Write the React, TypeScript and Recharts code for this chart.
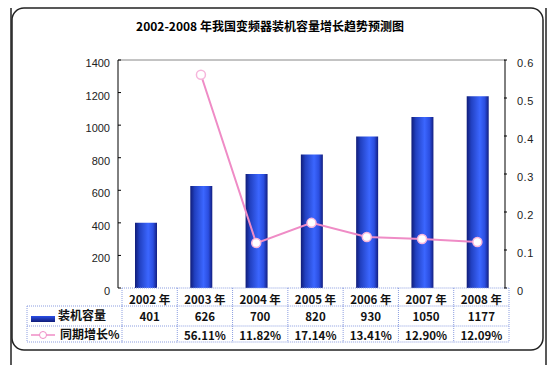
import { ComposedChart, Bar, Line, XAxis, YAxis, ReferenceLine } from "recharts";

// Data
const years = ["2002 年", "2003 年", "2004 年", "2005 年", "2006 年", "2007 年", "2008 年"];
const capacity = [401, 626, 700, 820, 930, 1050, 1177];
const growth = [null, 0.5611, 0.1182, 0.1714, 0.1341, 0.129, 0.1209];
const growthLabels = ["", "56.11%", "11.82%", "17.14%", "13.41%", "12.90%", "12.09%"];
const leftTicks = [0, 200, 400, 600, 800, 1000, 1200, 1400];
const rightTicks = [0, 0.1, 0.2, 0.3, 0.4, 0.5, 0.6];

const data = years.map((year, i) => ({ year, capacity: capacity[i], growth: growth[i] }));

// Layout
const W = 556;
const H = 365;
const TOP = 60;
const BOTTOM = 77;
const LEFT_W = 118;
const RIGHT_W = 51;
const BAND = (W - LEFT_W - RIGHT_W) / years.length;
const SHIFT = 4;
const PINK = "#ef8cc6";
const GRID = "#8c9ee0";
const CJK = "'Noto Sans CJK SC', sans-serif";

function LeftTick(props: any) {
  const { x, y, payload } = props;
  return (
    <g>
      <line x1={x + 8} x2={x + 11} y1={y} y2={y} stroke="#000" />
      <text x={x} y={y + 7} textAnchor="end" fontSize={11} fontFamily="'Liberation Sans', Arial" fill="#222">
        {payload.value}
      </text>
    </g>
  );
}

function RightTick(props: any) {
  const { x, y, payload } = props;
  return (
    <g>
      <line x1={x - 10} x2={x - 13} y1={y} y2={y} stroke="#000" />
      <text x={x} y={y + 7} textAnchor="start" fontSize={11} fontFamily="'Liberation Sans', Arial" fill="#222" letterSpacing={0.5}>
        {payload.value}
      </text>
    </g>
  );
}

function TableTick(props: any) {
  const { x, y, payload } = props;
  const i = payload.index;
  const top = y;
  const x0 = x - BAND / 2 + SHIFT;
  const x1 = x + BAND / 2 + SHIFT;
  const cx = x + SHIFT;
  const r1 = top + 18;
  const r2 = top + 38;
  const r3 = top + 54;
  const dash = { stroke: GRID, strokeDasharray: "1 1", strokeWidth: 1 };
  const bold = { fontFamily: CJK, fontWeight: 700, fontSize: 11.5, fill: "#111", textAnchor: "middle" as const };
  return (
    <g>
      <line x1={x0} x2={x1} y1={top} y2={top} {...dash} />
      <line x1={x0} x2={x1} y1={r1} y2={r1} {...dash} />
      <line x1={x0} x2={x1} y1={r2} y2={r2} {...dash} />
      <line x1={x0} x2={x1} y1={r3} y2={r3} {...dash} />
      <line x1={x1} x2={x1} y1={top} y2={r3} {...dash} />
      {i === 0 && (
        <g>
          <line x1={x0} x2={x0} y1={top} y2={r3} {...dash} />
          <line x1={27} x2={x0} y1={r1} y2={r1} {...dash} />
          <line x1={27} x2={x0} y1={r2} y2={r2} {...dash} />
          <line x1={27} x2={x0} y1={r3} y2={r3} {...dash} />
          <line x1={27} x2={27} y1={r1} y2={r3} {...dash} />
          <rect x={31} y={r1 + 10} width={24} height={6} fill="url(#swatchGrad)" />
          <text x={58} y={r1 + 14} {...bold} textAnchor="start" fontSize={12}>装机容量</text>
          <line x1={31} x2={55} y1={r2 + 9} y2={r2 + 9} stroke={PINK} strokeWidth={1.5} />
          <circle cx={43} cy={r2 + 9} r={3.5} fill="#fff" stroke={PINK} strokeWidth={1} />
          <text x={60} y={r2 + 13} {...bold} textAnchor="start" fontSize={12}>同期增长%</text>
        </g>
      )}
      <text x={cx} y={top + 16} {...bold}>{years[i]}</text>
      <text x={cx} y={r1 + 15} {...bold}>{capacity[i]}</text>
      <text x={cx} y={r2 + 14} {...bold}>{growthLabels[i]}</text>
    </g>
  );
}

export default function App() {
  return (
    <div style={{ position: "absolute", left: 0, top: 0, width: W, height: H, background: "#fff" }}>
      <svg width={W} height={H} style={{ position: "absolute", left: 0, top: 0 }}>
        <defs>
          <linearGradient id="barGrad" x1="0" y1="0" x2="1" y2="0">
            <stop offset="0%" stopColor="#101c78" />
            <stop offset="20%" stopColor="#2140c0" />
            <stop offset="60%" stopColor="#3b66ff" />
            <stop offset="82%" stopColor="#2b4ee0" />
            <stop offset="100%" stopColor="#121e80" />
          </linearGradient>
          <linearGradient id="swatchGrad" x1="0" y1="0" x2="0" y2="1">
            <stop offset="0%" stopColor="#2a4fe8" />
            <stop offset="100%" stopColor="#101c78" />
          </linearGradient>
        </defs>
        <line x1={11} x2={11} y1={8} y2={H} stroke="#222" strokeWidth={1.5} />
        <line x1={546} x2={546} y1={8} y2={H} stroke="#222" strokeWidth={1.5} />
        <rect x={12} y={8} width={531} height={342} rx={12} fill="#fff" stroke="#222" strokeWidth={1.5} />
        <text x={270} y={31} textAnchor="middle" fontFamily={CJK} fontWeight={700} fontSize={12} fill="#000">
          2002-2008 年我国变频器装机容量增长趋势预测图
        </text>
      </svg>
      <div style={{ position: "absolute", left: 0, top: 0 }}>
        <ComposedChart width={W} height={H} data={data} margin={{ top: TOP, right: 0, bottom: 0, left: 0 }}>
          <XAxis
            dataKey="year"
            height={BOTTOM}
            axisLine={false}
            tickLine={false}
            tickSize={0}
            tickMargin={0}
            interval={0}
            tick={<TableTick />}
          />
          <YAxis
            yAxisId="left"
            orientation="left"
            width={LEFT_W}
            domain={[0, 1400]}
            ticks={leftTicks}
            interval={0}
            axisLine={{ stroke: "#000" }}
            tickLine={false}
            tickSize={0}
            tickMargin={8}
            tick={<LeftTick />}
          />
          <YAxis
            yAxisId="right"
            orientation="right"
            width={RIGHT_W}
            domain={[0, 0.6]}
            ticks={rightTicks}
            interval={0}
            axisLine={{ stroke: "#000" }}
            tickLine={false}
            tickSize={0}
            tickMargin={12}
            tick={<RightTick />}
          />
          <ReferenceLine yAxisId="left" y={1400} stroke="#888" />
          <Bar yAxisId="left" dataKey="capacity" barSize={22} fill="url(#barGrad)" isAnimationActive={false} />
          <Line
            yAxisId="right"
            dataKey="growth"
            stroke={PINK}
            strokeWidth={2}
            dot={{ r: 4.5, fill: "#fff", stroke: "#f6b6dc", strokeWidth: 1.5 }}
            isAnimationActive={false}
          />
        </ComposedChart>
      </div>
    </div>
  );
}
